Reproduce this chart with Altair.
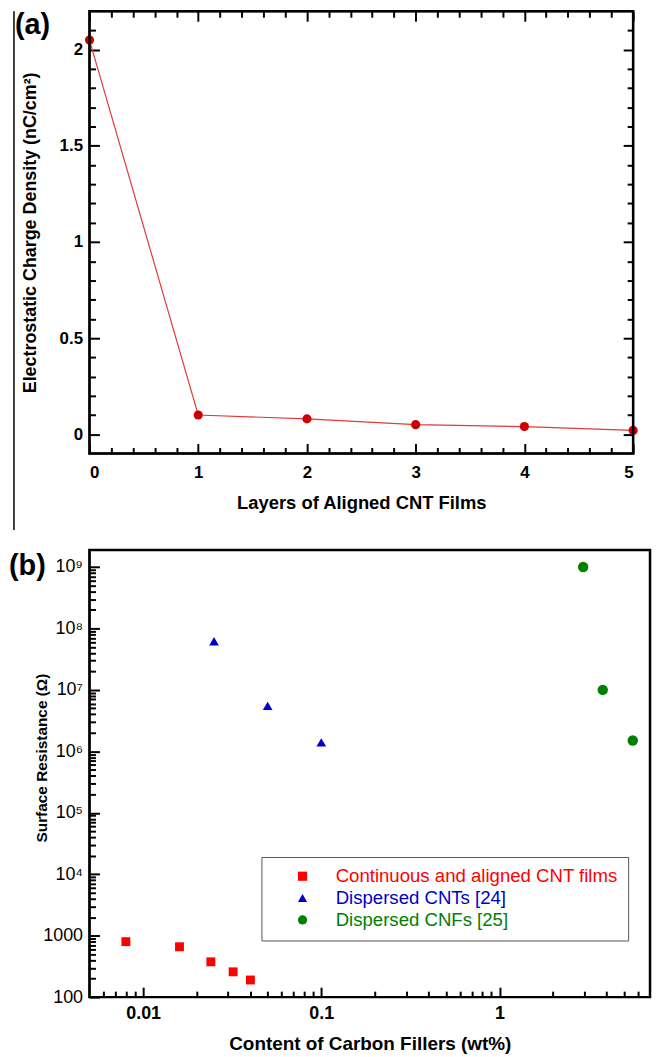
import altair as alt
import pandas as pd

# ---------------- data: panel (a) ----------------
layers = [0, 1, 2, 3, 4, 5]
charge_density = [2.05, 0.10, 0.08, 0.05, 0.04, 0.02]

# ---------------- data: panel (b) ----------------
series_names = ["Continuous and aligned CNT films", "Dispersed CNTs [24]", "Dispersed CNFs [25]"]
film_content = [0.008, 0.016, 0.024, 0.032, 0.040]
film_resistance = [800, 660, 375, 258, 190]
cnt_content = [0.025, 0.05, 0.1]
cnt_resistance = [6.2e7, 5.5e6, 1.4e6]
cnf_content = [2.95, 3.8, 5.6]
cnf_resistance = [1.0e9, 1.0e7, 1.5e6]
series_colors = ["#ff0000", "#0000cc", "#008000"]
series_shapes = ["square", "triangle-up", "circle"]
series_sizes = [80, 110, 72]

# ---------------- tick values / labels ----------------
a_x_major = [0, 1, 2, 3, 4, 5]
a_x_minor = [round(i * 0.2, 1) for i in range(1, 25) if i % 5]
a_y_major = [0, 0.5, 1, 1.5, 2]
a_y_minor = [round(i / 10, 1) for i in range(1, 22) if i % 5]

b_x_major = [0.01, 0.1, 1]
b_x_minor = [round(k * 10 ** e, 6) for e in (-3, -2, -1, 0) for k in range(2, 10)]
b_x_minor = [v for v in b_x_minor if 0.0051 < v < 7]
b_y_major = [1e2, 1e3, 1e4, 1e5, 1e6, 1e7, 1e8, 1e9]
b_y_labels = ["100", "1000", "10\u2074", "10\u2075", "10\u2076", "10\u2077", "10\u2078", "10\u2079"]
b_y_minor = [k * 10 ** e for e in range(2, 9) for k in range(2, 10)]

panel_labels = ["(a)", "(b)"]

FONT = "Liberation Sans"


def tick_axis(orient, values, size, **kw):
    base = dict(orient=orient, values=values, tickSize=size, offset=-size, domain=False,
                grid=False, ticks=True, tickColor="black", tickWidth=2, labels=False,
                title=None, labelFont=FONT, labelFontSize=17, labelFontWeight="bold",
                labelColor="black", titleFont=FONT, titleFontSize=18,
                titleFontWeight="bold", titleColor="black", minExtent=0)
    base.update(kw)
    return alt.Axis(**base)


def frame_layer():
    # the plot-area border, drawn over everything
    return alt.Chart(pd.DataFrame({"f": [0]})).mark_rect(
        filled=False, stroke="black", strokeWidth=2.5, fillOpacity=0
    ).encode(x=alt.value(0), x2=alt.value("width"), y=alt.value(0), y2=alt.value("height"))


# ---------------- panel (a) ----------------
df_a = pd.DataFrame({"layers": layers, "charge": charge_density})
xa = alt.Scale(domain=[0, 5], nice=False, zero=False)
ya = alt.Scale(domain=[-0.1, 2.2], nice=False, zero=False)
base_a = alt.Chart(df_a)

line_a = base_a.mark_line(color="#e23a3a", strokeWidth=1.2).encode(
    x=alt.X("layers:Q", scale=xa,
            axis=tick_axis("bottom", a_x_major, 10, labels=True, format="d",
                           title="Layers of Aligned CNT Films", labelPadding=11,
                           titlePadding=13, titleFontSize=18.5)),
    y=alt.Y("charge:Q", scale=ya,
            axis=tick_axis("left", a_y_major, 10, labels=True, format="~g",
                           title="Electrostatic Charge Density (nC/cm\u00b2)",
                           labelPadding=7, titlePadding=20)),
)
pts_a = base_a.mark_circle(color="#cc0000", size=85, opacity=1).encode(
    x=alt.X("layers:Q", scale=xa, axis=tick_axis("bottom", a_x_minor, 6)),
    y=alt.Y("charge:Q", scale=ya, axis=tick_axis("left", a_y_minor, 6)),
)
mirror_major_a = base_a.mark_point(opacity=0).encode(
    x=alt.X("layers:Q", scale=xa, axis=tick_axis("top", a_x_major, 10)),
    y=alt.Y("charge:Q", scale=ya, axis=tick_axis("right", a_y_major, 10)),
)
mirror_minor_a = base_a.mark_point(opacity=0).encode(
    x=alt.X("layers:Q", scale=xa, axis=tick_axis("top", a_x_minor, 6)),
    y=alt.Y("charge:Q", scale=ya, axis=tick_axis("right", a_y_minor, 6)),
)
tag_a = alt.Chart(pd.DataFrame({"t": [panel_labels[0]]})).mark_text(
    font=FONT, fontSize=29, fontWeight="bold", align="left", baseline="top", color="black"
).encode(text="t:N", x=alt.value(-75), y=alt.value(0))
edge_a = alt.Chart(pd.DataFrame({"t": [0]})).mark_rule(color="black", strokeWidth=1.5).encode(
    x=alt.value(-76), y=alt.value(0), y2=alt.value(522))

panel_a = alt.layer(
    line_a, pts_a, mirror_major_a, mirror_minor_a, tag_a, edge_a, frame_layer()
).resolve_axis(x="independent", y="independent").properties(width=547, height=445)

# ---------------- panel (b) ----------------
df_b = pd.DataFrame({
    "series": [series_names[0]] * len(film_content) + [series_names[1]] * len(cnt_content)
              + [series_names[2]] * len(cnf_content),
    "content": film_content + cnt_content + cnf_content,
    "resistance": film_resistance + cnt_resistance + cnf_resistance,
})
xb = alt.Scale(type="log", domain=[0.005, 7], nice=False)
yb = alt.Scale(type="log", domain=[100, 1.9e9], nice=False)

label_expr_b = "[" + ",".join("'" + s + "'" for s in b_y_labels) + "][round(log(datum.value)/LN10)-2]"
color_expr = ("[" + ",".join("'" + c + "'" for c in series_colors) + "][indexof(["
              + ",".join("'" + s + "'" for s in series_names) + "], datum.label)]")

legend_b = alt.Legend(orient="none", legendX=173, legendY=309, title=None,
                      labelFont=FONT, labelFontSize=18.7, labelLimit=0,
                      labelColor=alt.ExprRef(expr=color_expr),
                      symbolSize=85, symbolStrokeWidth=0, padding=10, symbolOffset=22,
                      labelOffset=24, rowPadding=2, strokeColor="#555555",
                      fillColor="white")

pts_b = alt.Chart(df_b).mark_point(filled=True, opacity=1).encode(
    x=alt.X("content:Q", scale=xb,
            axis=tick_axis("bottom", b_x_major, 10, labels=True, format="~g",
                           title="Content of Carbon Fillers (wt%)", labelFontSize=18,
                           labelPadding=8, titlePadding=12, titleFontSize=19)),
    y=alt.Y("resistance:Q", scale=yb,
            axis=tick_axis("left", b_y_major, 10, labels=True, labelExpr=label_expr_b,
                           title="Surface Resistance (\u03a9)", labelFontWeight="normal",
                           labelFontSize=18, labelPadding=7, titlePadding=-7, titleY=209,
                           titleFontSize=15.5)),
    color=alt.Color("series:N", scale=alt.Scale(domain=series_names, range=series_colors),
                    legend=legend_b),
    shape=alt.Shape("series:N", scale=alt.Scale(domain=series_names, range=series_shapes),
                    legend=legend_b),
    size=alt.Size("series:N", scale=alt.Scale(domain=series_names, range=series_sizes),
                  legend=None),
)
minor_b = alt.Chart(df_b).mark_point(opacity=0).encode(
    x=alt.X("content:Q", scale=xb, axis=tick_axis("bottom", b_x_minor, 6)),
    y=alt.Y("resistance:Q", scale=yb, axis=tick_axis("left", b_y_minor, 6)),
)
tag_b = alt.Chart(pd.DataFrame({"t": [panel_labels[1]]})).mark_text(
    font=FONT, fontSize=29, fontWeight="bold", align="left", baseline="top", color="black"
).encode(text="t:N", x=alt.value(-81), y=alt.value(2))

panel_b = alt.layer(
    pts_b, minor_b, tag_b, frame_layer()
).resolve_axis(x="independent", y="independent").properties(width=564, height=450)

chart = alt.vconcat(panel_a, panel_b, spacing=15).resolve_legend(
    color="independent", shape="independent"
).properties(
    padding={"left": 0, "top": -3, "right": 0, "bottom": 0}, background="white"
).configure_view(stroke="black", strokeWidth=2)

chart.save("out.html", embed_options={"renderer": "svg", "actions": False})
